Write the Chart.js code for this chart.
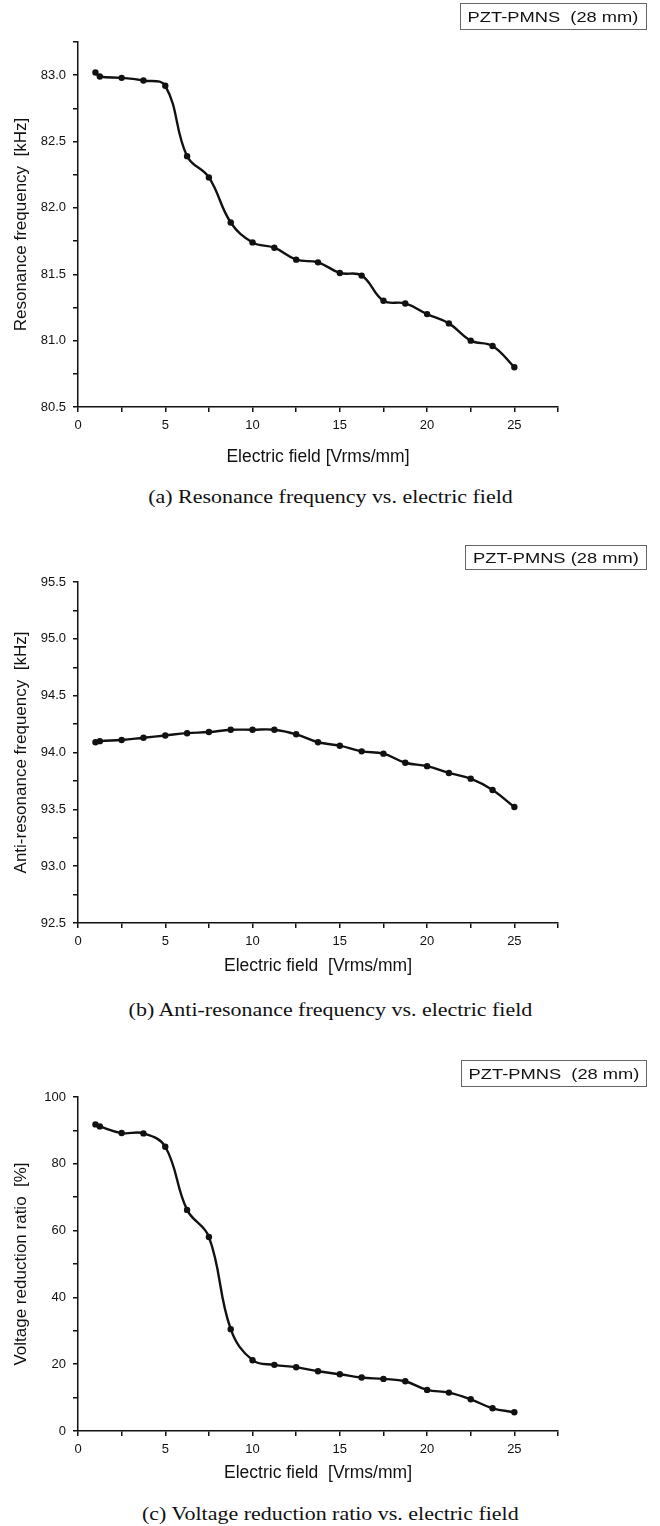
<!DOCTYPE html>
<html>
<head>
<meta charset="utf-8">
<script src="https://cdn.jsdelivr.net/npm/chart.js@4.4.0/dist/chart.umd.min.js"></script>
<style>
  body { margin: 0; background: #fff; width: 660px; height: 1526px; position: relative; overflow: hidden; }
  canvas { position: absolute; left: 0; }
  .tag { position: absolute; border: 1px solid #666; box-sizing: border-box; text-align: center;
         font: 15px "Liberation Sans", Arial, sans-serif; color: #111; }
  .tag span, .caption span { display: inline-block; white-space: pre; transform: scaleX(1.22); }
  .caption { position: absolute; left: 0; width: 660px; text-align: center; line-height: 22px;
             font: 18px "Liberation Serif", "Times New Roman", serif; color: #111; }
</style>
</head>
<body>
<canvas id="chartA" width="660" height="468" style="top:0px"></canvas>
<canvas id="chartB" width="660" height="447" style="top:530px"></canvas>
<canvas id="chartC" width="660" height="434" style="top:1050px"></canvas>

<div class="tag" style="left:460px;top:3px;width:187px;height:27px;line-height:25px"><span>PZT-PMNS  (28 mm)</span></div>
<div class="tag" style="left:465px;top:545px;width:182px;height:25px;line-height:23px"><span>PZT-PMNS (28 mm)</span></div>
<div class="tag" style="left:461px;top:1060px;width:186px;height:27px;line-height:25px"><span>PZT-PMNS  (28 mm)</span></div>

<div class="caption" style="top:487px"><span>(a) Resonance frequency vs. electric field</span></div>
<div class="caption" style="top:1000px"><span>(b) Anti-resonance frequency vs. electric field</span></div>
<div class="caption" style="top:1504px"><span>(c) Voltage reduction ratio vs. electric field</span></div>

<script>
// electric field [Vrms/mm]
const fieldValues = [1, 1.25, 2.5, 3.75, 5, 6.25, 7.5, 8.75, 10, 11.25, 12.5, 13.75, 15, 16.25, 17.5, 18.75, 20, 21.25, 22.5, 23.75, 25];

// (a) resonance frequency [kHz]
const resonanceFreq = [83.02, 82.99, 82.98, 82.96, 82.92, 82.39, 82.23, 81.89, 81.74, 81.70, 81.61, 81.59, 81.51, 81.49, 81.30, 81.28, 81.20, 81.13, 81.00, 80.96, 80.80];
// (b) anti-resonance frequency [kHz]
const antiResonanceFreq = [94.09, 94.10, 94.11, 94.13, 94.15, 94.17, 94.18, 94.20, 94.20, 94.20, 94.16, 94.09, 94.06, 94.01, 93.99, 93.91, 93.88, 93.82, 93.77, 93.67, 93.52];
// (c) voltage reduction ratio [%]
const voltageRatio = [91.8, 91.2, 89.2, 89.1, 85.1, 66.2, 58.1, 30.5, 21.2, 19.8, 19.1, 17.9, 17.0, 16.0, 15.6, 14.9, 12.3, 11.5, 9.5, 6.8, 5.6];

// tick labels
const xTickLabels = [0, 5, 10, 15, 20, 25];
const resonanceTicks = [80.5, 81.0, 81.5, 82.0, 82.5, 83.0];
const antiResonanceTicks = [92.5, 93.0, 93.5, 94.0, 94.5, 95.0, 95.5];
const ratioTicks = [0, 20, 40, 60, 80, 100];

const sans = '"Liberation Sans", Arial, sans-serif';
Chart.defaults.color = '#111';
Chart.defaults.font.family = sans;

function axisLook() {
  return {
    grid: { display: true, drawOnChartArea: false, drawTicks: true, tickLength: 5, color: '#111', lineWidth: 1.5 },
    border: { display: true, color: '#111', width: 1.5 },
  };
}

function makeChart(id, values, yCfg, xTitle, plotTop, xAxisHeight) {
  const points = fieldValues.map((x, i) => ({ x: x, y: values[i] }));
  return new Chart(document.getElementById(id), {
    type: 'line',
    data: {
      datasets: [{
        data: points,
        borderColor: '#111',
        borderWidth: 2.4,
        backgroundColor: '#111',
        pointRadius: 3.2,
        pointBorderWidth: 0,
        tension: 0.4,
        fill: false,
      }],
    },
    options: {
      responsive: false,
      animation: false,
      events: [],
      layout: { padding: { top: plotTop, right: 102, bottom: 0, left: 0 } },
      plugins: { legend: { display: false }, tooltip: { enabled: false } },
      scales: {
        x: {
          type: 'linear',
          min: 0,
          max: 27.5,
          ...axisLook(),
          ticks: {
            stepSize: 2.5,
            autoSkip: false,
            maxRotation: 0,
            padding: 6,
            font: { size: 13 },
            callback: (v) => (xTickLabels.includes(v) ? String(v) : ''),
          },
          title: { display: true, text: xTitle, font: { size: 17.5 }, padding: { top: 0, bottom: 0 } },
          afterFit: (scale) => { scale.height = xAxisHeight; },
        },
        y: {
          type: 'linear',
          min: yCfg.min,
          max: yCfg.max,
          ...axisLook(),
          ticks: {
            stepSize: yCfg.step,
            autoSkip: false,
            padding: 7,
            font: { size: 13 },
            callback: (v) => (yCfg.labels.includes(v) ? v.toFixed(yCfg.digits) : ''),
          },
          title: { display: true, text: yCfg.title, font: { size: 17 }, padding: { top: 11, bottom: 0 } },
          afterFit: (scale) => { scale.width = 78; },
        },
      },
    },
  });
}

makeChart('chartA', resonanceFreq,
  { min: 80.5, max: 83.25, step: 0.25, labels: resonanceTicks, digits: 1, title: 'Resonance frequency  [kHz]' },
  'Electric field [Vrms/mm]', 42, 61);

makeChart('chartB', antiResonanceFreq,
  { min: 92.5, max: 95.5, step: 0.25, labels: antiResonanceTicks, digits: 1, title: 'Anti-resonance frequency  [kHz]' },
  'Electric field  [Vrms/mm]', 52, 54);

makeChart('chartC', voltageRatio,
  { min: 0, max: 100, step: 10, labels: ratioTicks, digits: 0, title: 'Voltage reduction ratio  [%]' },
  'Electric field  [Vrms/mm]', 47, 53);
</script>
</body>
</html>
